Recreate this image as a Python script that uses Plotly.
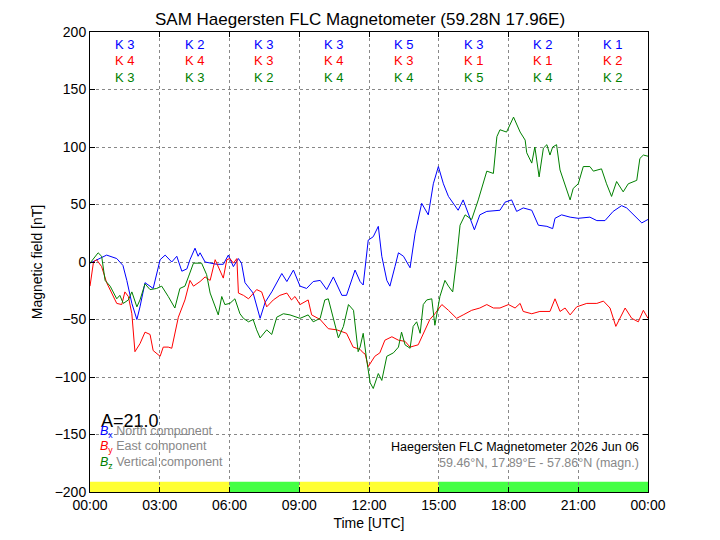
import plotly.graph_objects as go
import pandas as pd

# ---- data (minutes after 00:00 UTC, values in nT) ----
bx_min = [0,17,43,69,85,95,108,121,129,142,163,181,194,211,224,237,250,258,271,279,284,297,327,344,357,370,383,391,400,421,439,452,469,495,508,525,542,559,576,594,611,628,650,662,684,697,705,718,731,744,753,766,774,787,796,809,826,839,856,873,886,899,912,925,950,963,976,992,1006,1024,1058,1071,1088,1101,1118,1140,1157,1179,1194,1200,1217,1239,1260,1290,1308,1329,1350,1372,1385,1402,1424,1440]
bx_val = [-1,2,6,3,-3,-16,-36,-50,-39,-18,-23,2,6,0,5,-8,-6,2,12,5,8,0,-2,-2,6,-4,3,-1,-18,-27,-49,-35,-26,-10,-17,-7,-21,-23,-17,-16,-24,-13,-29,-29,-7,-17,-20,19,22,31,5,-16,-21,-4,8,5,-5,25,51,41,68,83,68,57,45,54,42,28,41,44,45,52,54,44,47,45,32,31,29,38,41,39,38,39,36,36,44,49,47,41,34,37]

by_min = [0,9,17,30,43,56,69,82,90,99,108,116,129,142,155,163,181,189,202,211,228,245,258,267,284,297,310,323,331,344,353,361,370,379,383,396,409,421,430,443,456,473,490,508,520,529,542,563,572,594,615,637,662,679,697,705,710,718,735,748,761,779,796,813,826,847,860,877,890,908,925,946,963,985,1006,1024,1041,1058,1080,1097,1110,1118,1140,1161,1187,1200,1213,1226,1239,1256,1282,1308,1325,1342,1357,1381,1398,1415,1428,1440]
by_val = [-21,0,2,-4,-18,-27,-36,-37,-26,-30,-45,-78,-71,-61,-63,-77,-82,-74,-74,-75,-48,-33,-16,-21,-17,-13,-16,2,-4,-14,2,3,-1,3,-27,-29,-32,-27,-24,-26,-39,-33,-29,-27,-33,-30,-37,-33,-46,-50,-58,-59,-62,-74,-76,-79,-80,-91,-82,-79,-68,-65,-68,-69,-74,-72,-62,-50,-45,-37,-42,-49,-46,-42,-40,-37,-40,-40,-37,-40,-36,-43,-45,-43,-43,-32,-43,-40,-46,-39,-36,-36,-34,-40,-56,-40,-49,-52,-42,-49]

bz_min = [0,21,30,39,52,69,77,86,99,108,121,129,142,155,172,185,202,219,232,245,254,267,288,301,310,323,331,340,348,361,374,387,396,409,421,430,439,456,469,482,499,516,542,563,576,594,606,615,628,641,654,667,680,692,697,705,714,723,731,744,753,766,783,796,804,813,826,834,843,852,860,869,882,890,903,916,925,936,946,955,968,985,1002,1015,1024,1041,1050,1058,1075,1093,1110,1123,1127,1140,1148,1159,1170,1179,1187,1194,1204,1213,1226,1239,1247,1260,1273,1290,1299,1320,1333,1346,1359,1376,1389,1411,1419,1428,1440]
bz_val = [-1,8,5,-16,-21,-32,-29,-36,-33,-26,-39,-33,-19,-24,-23,-21,-30,-40,-23,-21,-13,-1,-1,-11,-27,-39,-46,-30,-37,-36,-32,-45,-49,-52,-50,-59,-66,-59,-63,-48,-45,-46,-49,-46,-52,-49,-33,-32,-50,-66,-56,-37,-42,-78,-74,-62,-85,-105,-110,-97,-103,-82,-79,-74,-61,-72,-75,-56,-52,-62,-37,-33,-32,-55,-30,-16,-21,-26,2,32,41,37,54,70,79,77,109,115,113,126,113,106,95,86,100,74,99,102,93,100,102,80,67,54,64,68,83,83,79,81,68,57,70,61,68,71,90,93,92]

k_x = [3, 2, 3, 3, 5, 3, 2, 1]
k_y = [4, 4, 3, 4, 3, 1, 1, 2]
k_z = [3, 3, 2, 4, 4, 5, 4, 2]
k_block_start_h = [0, 3, 6, 9, 12, 15, 18, 21]

bar_start_h = [0, 6, 9, 15]
bar_end_h = [6, 9, 15, 24]
bar_colors = ["#ffff33", "#44ff44", "#ffff33", "#44ff44"]

title = "SAM Haegersten FLC Magnetometer (59.28N 17.96E)"
day = pd.Timestamp("2026-06-06")

def t(mins):
    return [day + pd.Timedelta(minutes=m) for m in mins]

FONT = "Liberation Sans, Arial, sans-serif"
fig = go.Figure()
fig.add_trace(go.Scatter(x=t(bx_min), y=bx_val, mode="lines", line=dict(color="#0000ff", width=1), showlegend=False))
fig.add_trace(go.Scatter(x=t(by_min), y=by_val, mode="lines", line=dict(color="#ff0000", width=1), showlegend=False))
fig.add_trace(go.Scatter(x=t(bz_min), y=bz_val, mode="lines", line=dict(color="#008000", width=1), showlegend=False))

shapes = []
for s, e, c in zip(bar_start_h, bar_end_h, bar_colors):
    shapes.append(dict(type="rect", xref="x", yref="y", x0=day + pd.Timedelta(hours=s), x1=day + pd.Timedelta(hours=e),
                       y0=-200, y1=-191, fillcolor=c, line=dict(width=0), layer="below"))

ann = []
for h, a, b, c in zip(k_block_start_h, k_x, k_y, k_z):
    xc = day + pd.Timedelta(hours=h + 1.5)
    for val, col, py in ((a, "#0000ff", 0.972), (b, "#ff0000", 0.937), (c, "#008000", 0.902)):
        ann.append(dict(x=xc, y=py, xref="x", yref="paper", text=f"K {val}", showarrow=False,
                        font=dict(color=col, size=13, family=FONT), xanchor="center", yanchor="middle"))

ann.append(dict(x=0.017, y=0.155, xref="paper", yref="paper", text="A=21.0", showarrow=False,
                font=dict(size=18, color="black", family=FONT), xanchor="left", yanchor="middle"))
leg = [("#0000ff", "x", "North component", 0.130), ("#ff0000", "y", "East component", 0.097), ("#008000", "z", "Vertical component", 0.063)]
for col, sub, label, py in leg:
    ann.append(dict(x=0.014, y=py, xref="paper", yref="paper",
                    text=f"<span style='color:{col}'><i>B</i><sub>{sub}</sub></span> {label}",
                    showarrow=False, font=dict(size=12.5, color="#888888", family=FONT), xanchor="left", yanchor="middle"))
ann.append(dict(x=0.988, y=0.097, xref="paper", yref="paper", text="Haegersten FLC Magnetometer 2026 Jun 06",
                showarrow=False, font=dict(size=12.5, color="black", family=FONT), xanchor="right", yanchor="middle"))
ann.append(dict(x=0.988, y=0.063, xref="paper", yref="paper", text="59.46°N, 17.89°E - 57.86°N (magn.)",
                showarrow=False, font=dict(size=12.5, color="#888888", family=FONT), xanchor="right", yanchor="middle"))

fig.update_layout(
    width=720, height=540,
    margin=dict(l=90, r=72, t=32, b=48),
    paper_bgcolor="white", plot_bgcolor="white",
    title=dict(text=title, x=0.5, xanchor="center", y=1 - 19/540, yanchor="middle",
               font=dict(size=17, color="black", family=FONT)),
    font=dict(family=FONT, color="black", size=14),
    shapes=shapes, annotations=ann,
    xaxis=dict(range=[day, day + pd.Timedelta(hours=24)], type="date", tickformat="%H:%M",
               dtick=3 * 3600 * 1000, tick0=day, ticks="inside", ticklen=5, tickcolor="black",
               showline=True, linecolor="black", linewidth=1, mirror="ticks",
               showgrid=True, gridcolor="#888888", griddash="dot", gridwidth=1,
               title=dict(text="Time [UTC]", font=dict(size=14), standoff=6),
               tickfont=dict(size=14), zeroline=False),
    yaxis=dict(range=[-200, 200], dtick=50, tick0=0, ticks="inside", ticklen=5, tickcolor="black",
               showline=True, linecolor="black", linewidth=1, mirror="ticks",
               showgrid=True, gridcolor="#888888", griddash="dot", gridwidth=1,
               title=dict(text="Magnetic field [nT]", font=dict(size=14), standoff=8),
               tickfont=dict(size=14), zeroline=False),
)
fig.write_html("out.html")
